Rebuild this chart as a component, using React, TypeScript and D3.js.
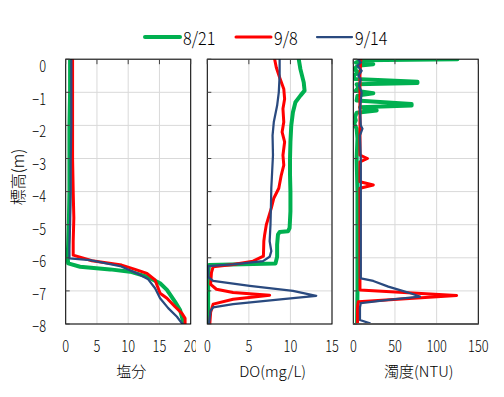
import React from 'react';
import * as d3 from 'd3';

// ---------- data ----------
const depthTicks = [0, -1, -2, -3, -4, -5, -6, -7, -8];
const salTicks = [0, 5, 10, 15, 20];
const doTicks = [0, 5, 10, 15];
const turbTicks = [0, 50, 100, 150];
const seriesNames = ['8/21', '9/8', '9/14'];
const panelTitles = ['塩分', 'DO(mg/L)', '濁度(NTU)'];
const yTitle = '標高(m)';

type P = [number, number]; // [value, elevation]

const sal821: P[] = [[0.7,0],[0.7,-1],[0.6,-2],[0.6,-3],[0.6,-4],[0.5,-5],[0.4,-5.6],[0.3,-6.0],[0.4,-6.17],[2.3,-6.27],[7.1,-6.35],[10.3,-6.42],[13,-6.57],[15.1,-6.77],[16.2,-6.97],[17.5,-7.33],[18.3,-7.58],[18.8,-7.93],[18.8,-8]];
const sal98: P[] = [[1.1,0],[1.1,-1],[1.1,-2],[1.1,-3],[1.2,-4],[1.3,-4.8],[1.2,-5.5],[1.2,-5.92],[4.2,-6.09],[8.95,-6.22],[11.1,-6.35],[13,-6.47],[14.3,-6.67],[15.1,-7.07],[16.2,-7.22],[17.5,-7.48],[18.6,-7.68],[19.1,-7.83],[19.1,-8]];
const sal914: P[] = [[0.9,0],[0.9,-1],[0.9,-2],[0.8,-3],[0.8,-4],[0.7,-5],[0.6,-5.6],[0.6,-6.02],[3.9,-6.07],[8.7,-6.25],[11.4,-6.47],[13.2,-6.65],[14.3,-6.92],[15.1,-7.22],[16.4,-7.52],[17.8,-7.78],[18.6,-7.98],[18.7,-8]];

const do821: P[] = [[11.0,0],[11.2,-0.3],[11.6,-0.7],[11.7,-0.95],[11.2,-1.1],[10.6,-1.3],[10.3,-1.6],[10.1,-2],[10.0,-2.5],[9.95,-3],[9.95,-3.5],[10.0,-4],[10.0,-4.6],[9.9,-5.1],[9.7,-5.2],[8.7,-5.22],[8.5,-5.3],[8.4,-5.6],[8.4,-5.97],[8.2,-6.17],[0.2,-6.22],[0.1,-6.5],[0.1,-8]];
const do98: P[] = [[8.1,0],[8.3,-0.25],[8.7,-0.55],[9.2,-0.9],[9.3,-1.2],[9.1,-1.5],[9.2,-1.9],[9.0,-2.2],[9.3,-2.5],[9.1,-2.9],[9.2,-3.2],[8.9,-3.5],[8.6,-3.9],[8.0,-4.2],[7.7,-4.5],[7.4,-4.75],[7.1,-5],[6.9,-5.3],[6.8,-5.5],[6.75,-5.95],[5.5,-6.1],[3.1,-6.2],[0.7,-6.27],[0.5,-6.45],[0.4,-6.8],[1.1,-6.95],[3.1,-7.05],[7.5,-7.13],[3.1,-7.25],[0.7,-7.4],[0.4,-7.65],[0.3,-8]];
const do914: P[] = [[8.7,0],[8.7,-0.5],[8.6,-1],[8.4,-1.4],[8.0,-1.9],[7.85,-2.3],[7.9,-2.9],[7.8,-3.4],[7.7,-3.9],[7.65,-4.5],[7.6,-5],[7.5,-5.5],[7.7,-5.8],[7.5,-5.97],[6.7,-6.1],[3.1,-6.2],[0.1,-6.25],[0.1,-6.58],[0.7,-6.7],[5.1,-6.85],[10.3,-7.0],[13.1,-7.15],[9.1,-7.25],[3.1,-7.4],[0.7,-7.5],[0.4,-7.6],[0.2,-8]];

const turb821: P[] = [[125,0],[10,-0.03],[3,-0.1],[24,-0.15],[5,-0.2],[1,-0.3],[6,-0.4],[0,-0.5],[2,-0.6],[77,-0.68],[77,-0.72],[4,-0.76],[6,-0.85],[3,-0.95],[24,-1.03],[5,-1.1],[4,-1.25],[70,-1.35],[70,-1.4],[8,-1.45],[28,-1.55],[4,-1.62],[2,-1.75],[3,-1.85],[1,-1.95],[4,-2.1],[5,-2.4],[4,-3],[5,-4],[5,-5],[5,-6],[5,-7],[4.5,-8]];
const turb98: P[] = [[9,0],[8,-0.5],[8,-1],[8,-2],[8,-2.9],[17,-3.0],[8,-3.1],[8,-3.7],[24,-3.8],[8,-3.9],[8,-5],[8,-6],[8,-6.97],[124,-7.14],[6,-7.33],[5,-7.5],[5,-8]];
const turb914: P[] = [[6,0],[9,-0.1],[5,-0.2],[10,-0.35],[6,-0.5],[9,-0.6],[7,-0.8],[10,-1],[8,-1.5],[9,-2],[11,-2.1],[8,-2.3],[9,-3],[9,-4],[9,-5],[9,-6],[9,-6.62],[24,-6.7],[42,-6.87],[66,-7.05],[80,-7.17],[42,-7.27],[9,-7.37],[8,-7.5],[8,-7.88],[20,-7.98],[20,-8]];

// ---------- styles ----------
const COLORS = ['#00B050', '#FF0000', '#2A4A7F'];
const WIDTHS = [4, 3, 2.25];
const NUM_FONT = '"Noto Sans CJK JP", sans-serif';
const JP_FONT = '"Noto Sans CJK JP", sans-serif';

const Y0 = 59.2, Y1 = 324;

type PanelDef = {
  id: string; x0: number; x1: number; domain: [number, number]; ticks: number[];
  data: P[][]; title: string; showY: boolean; labelClip?: number; thickBottom?: boolean;
};

const panels: PanelDef[] = [
  { id: 'sal', x0: 65.7, x1: 190.7, domain: [0, 20], ticks: salTicks, data: [sal821, sal98, sal914], title: panelTitles[0], showY: true, labelClip: 196 },
  { id: 'do', x0: 207.3, x1: 332, domain: [0, 15], ticks: doTicks, data: [do821, do98, do914], title: panelTitles[1], showY: false },
  { id: 'turb', x0: 353.3, x1: 478.3, domain: [0, 150], ticks: turbTicks, data: [turb821, turb98, turb914], title: panelTitles[2], showY: false, thickBottom: true },
];

const fmt = (v: number) => (v < 0 ? '\u2212' + Math.abs(v) : String(v));

function NumText({ x, y, anchor, size, children, sx = 0.8 }: { x: number; y: number; anchor: string; size: number; children: React.ReactNode; sx?: number }) {
  return (
    <text transform={`translate(${x},${y}) scale(${sx},1)`} textAnchor={anchor as any} dominantBaseline="central" fontFamily={NUM_FONT} fontWeight={300} fontSize={size} fill="#000">{children}</text>
  );
}

function Panel({ p }: { p: PanelDef }) {
  const x = d3.scaleLinear().domain(p.domain).range([p.x0, p.x1]);
  const y = d3.scaleLinear().domain([0, -8]).range([Y0, Y1]);
  const yLab = d3.scaleLinear().domain([0, -8]).range([65, 325]);
  const line = d3.line<P>().x(d => x(d[0])).y(d => y(d[1]));
  const clipId = 'clip-' + p.id;
  const labClipId = 'lclip-' + p.id;
  return (
    <g>
      <defs>
        <clipPath id={clipId}><rect x={p.x0} y={Y0} width={p.x1 - p.x0} height={Y1 - Y0} /></clipPath>
        {p.labelClip && <clipPath id={labClipId}><rect x={0} y={0} width={p.labelClip} height={400} /></clipPath>}
      </defs>
      {depthTicks.map(t => (
        <line key={'h' + t} x1={p.x0} x2={p.x1} y1={y(t)} y2={y(t)} stroke="#D9D9D9" strokeWidth={1} />
      ))}
      {p.ticks.map(t => (
        <line key={'v' + t} x1={x(t)} x2={x(t)} y1={Y0} y2={Y1} stroke="#D9D9D9" strokeWidth={1} />
      ))}
      <g clipPath={`url(#${clipId})`}>
        {p.data.map((s, i) => (
          <path key={i} d={line(s) || ''} fill="none" stroke={COLORS[i]} strokeWidth={WIDTHS[i]} strokeLinejoin="round" strokeLinecap="round" />
        ))}
      </g>
      <rect x={p.x0} y={Y0} width={p.x1 - p.x0} height={Y1 - Y0} fill="none" stroke="#000" strokeWidth={1} />
      {p.thickBottom && <line x1={p.x0} x2={p.x1} y1={Y1} y2={Y1} stroke="#595959" strokeWidth={2} />}
      {p.ticks.map(t => (
        <line key={'tt' + t} x1={x(t)} x2={x(t)} y1={Y0} y2={Y0 + 5} stroke="#404040" strokeWidth={1} />
      ))}
      {depthTicks.map(t => (
        <line key={'lt' + t} x1={p.x0} x2={p.x0 + 4} y1={y(t)} y2={y(t)} stroke="#404040" strokeWidth={1} />
      ))}
      <g clipPath={p.labelClip ? `url(#${labClipId})` : undefined}>
        {p.ticks.map(t => (
          <NumText key={'xl' + t} x={x(t)} y={345} anchor="middle" size={16}>{fmt(t)}</NumText>
        ))}
      </g>
      {p.showY && depthTicks.map(t => (
        <NumText key={'yl' + t} x={46} y={yLab(t)} anchor="end" size={16}>{fmt(t)}</NumText>
      ))}
      <text x={(p.x0 + p.x1) / 2 + 3} y={370} textAnchor="middle" dominantBaseline="central" fontFamily={JP_FONT} fontWeight={300} fontSize={15} fill="#000">{p.title}</text>
    </g>
  );
}

export default function App() {
  const legendX = [145, 236, 317];
  return (
    <div style={{ position: 'absolute', left: 0, top: 0 }}>
      <svg width={504} height={397} style={{ display: 'block', background: '#fff' }}>
        <rect x={0} y={0} width={504} height={397} fill="#fff" />
        {panels.map(p => <Panel key={p.id} p={p} />)}
        <text transform={`translate(17,177) rotate(-90)`} textAnchor="middle" dominantBaseline="central" fontFamily={JP_FONT} fontWeight={300} fontSize={16} fill="#000">{yTitle}</text>
        {seriesNames.map((n, i) => (
          <g key={n}>
            <line x1={legendX[i]} x2={legendX[i] + 35} y1={37} y2={37} stroke={COLORS[i]} strokeWidth={WIDTHS[i]} strokeLinecap="round" />
            <NumText x={legendX[i] + 38} y={37} anchor="start" size={18} sx={0.9}>{n}</NumText>
          </g>
        ))}
      </svg>
    </div>
  );
}
